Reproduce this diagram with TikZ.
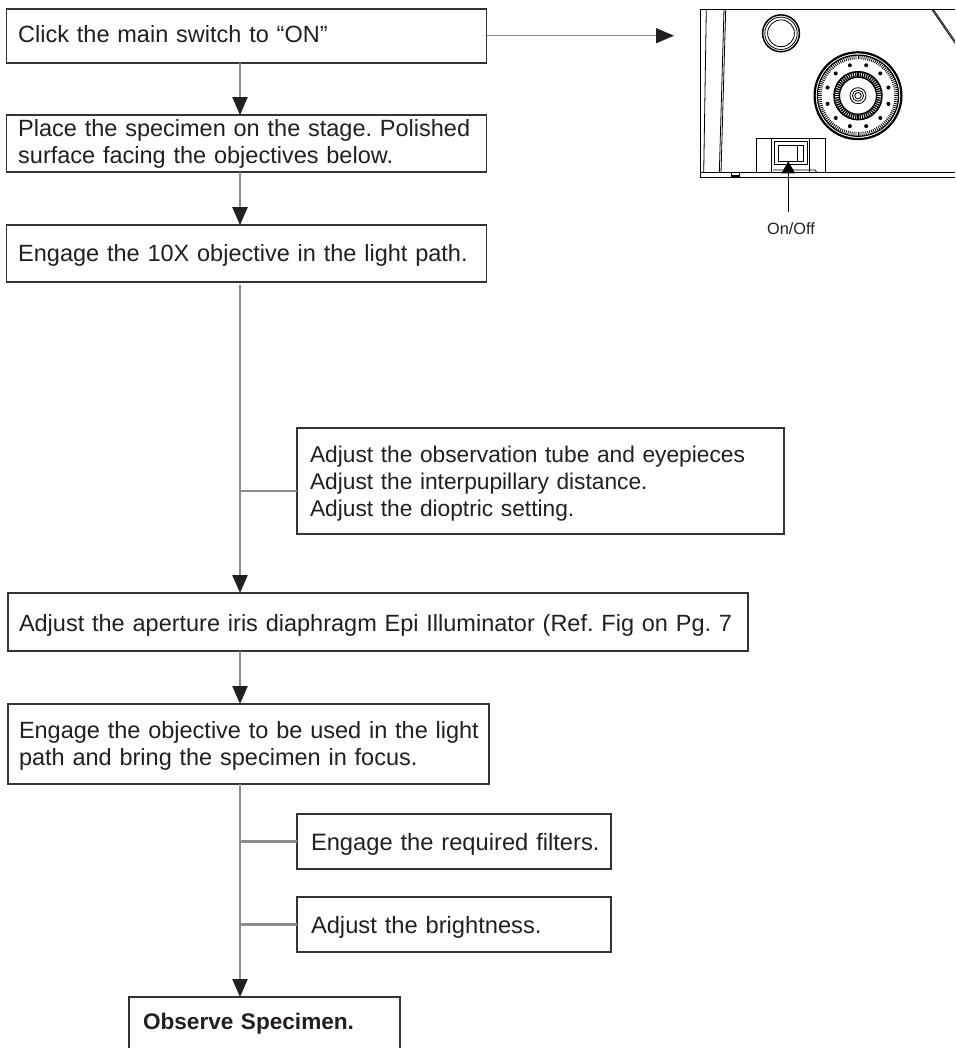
\documentclass[tikz,border=0pt]{standalone}
\usepackage{fontspec}
\setmainfont{Liberation Sans}
\usetikzlibrary{arrows.meta,calc}
\definecolor{ink}{HTML}{231F20}
\definecolor{rail}{HTML}{8C8C8F}
\definecolor{edge}{HTML}{333335}
\frenchspacing
\tikzset{
  flowbox/.style={draw=edge,line width=1.2pt,fill=white,align=left,inner ysep=0pt,outer sep=0pt,text=ink,text depth=0pt,
    font=\fontsize{23.5}{26.7}\selectfont\frenchspacing},
  narrowtext/.style={font=\fontsize{22.75}{26.7}\selectfont\frenchspacing},
  widetext/.style={font=\fontsize{23.7}{26.7}\selectfont\frenchspacing},
  boldtext/.style={font=\fontsize{22.6}{26.7}\selectfont\frenchspacing},
  flowlink/.style={draw=rail,line width=2.3pt},
  flowarrow/.style={flowlink,-{Triangle[length=18pt,width=15pt,color=ink]}},
  sidearrow/.style={draw=rail,line width=1.2pt,-{Triangle[length=18pt,width=15pt,color=ink]}},
  art/.style={draw=black,line width=0.8pt},
  artthick/.style={draw=black,line width=1.5pt},
}
\begin{document}
\begin{tikzpicture}[x=1pt,y=-1pt]
\path[use as bounding box,clip] (0,0) rectangle (955,1048);
\fill[white] (0,0) rectangle (955,1048);
\coordinate (trunk) at (240,0);
% boxes
\node[flowbox,text height=13.4pt,text width=457pt,inner xsep=11.5pt,minimum height=54pt] (b1) at (246.7,36) {\mbox{Click the main switch to “ON”}};
\node[flowbox,text height=0pt,text depth=13.8pt,text width=457pt,inner xsep=11.5pt,minimum height=57pt] (b2) at (246.7,143.6) {\mbox{Place the specimen on the stage. Polished}\\\mbox{surface facing the objectives below.}};
\node[flowbox,text height=16.8pt,text width=457pt,inner xsep=11.5pt,minimum height=57pt] (b3) at (246.7,253.6) {\mbox{Engage the 10X objective in the light path.}};
\node[flowbox,narrowtext,text height=0pt,text depth=36.6pt,text width=461pt,inner xsep=13pt,minimum height=106pt] (b4) at (540.5,481) {\mbox{Adjust the observation tube and eyepieces}\\\mbox{Adjust the interpupillary distance.}\\\mbox{Adjust the dioptric setting.}};
\node[flowbox,text height=19.4pt,text width=718pt,inner xsep=11pt,minimum height=58pt] (b5) at (378,622) {\mbox{Adjust the aperture iris diaphragm Epi Illuminator (Ref. Fig on Pg. 7}};
\node[flowbox,text height=0pt,text depth=10.6pt,text width=459pt,inner xsep=11pt,minimum height=80pt] (b6) at (248.5,744) {\mbox{Engage the objective to be used in the light}\\\mbox{path and bring the specimen in focus.}};
\node[flowbox,widetext,text height=18.4pt,text width=286pt,inner xsep=14pt,minimum height=55pt] (b7) at (454,841.5) {\mbox{Engage the required filters.}};
\node[flowbox,widetext,text height=17pt,text width=286pt,inner xsep=14pt,minimum height=55pt] (b8) at (454,924.5) {\mbox{Adjust the brightness.}};
\node[flowbox,boldtext,text height=10pt,text width=243pt,inner xsep=14pt,minimum height=55pt] (b9) at (264.5,1024.5) {\mbox{\textbf{Observe Specimen.}}};
% connectors
\draw[flowarrow] (b1.south -| trunk) -- (b2.north -| trunk);
\draw[flowarrow] (b2.south -| trunk) -- (b3.north -| trunk);
\draw[flowarrow,shorten <=3pt] (b3.south -| trunk) -- (b5.north -| trunk);
\draw[flowarrow] (b5.south -| trunk) -- (b6.north -| trunk);
\draw[flowarrow] (b6.south -| trunk) -- (b9.north -| trunk);
\coordinate (j4) at (240,490.7);
\draw[flowlink] (j4) -- (j4 -| b4.west);
\draw[flowlink] (b7.west) -- (b7.west -| trunk);
\draw[flowlink] (b8.west) -- (b8.west -| trunk);
\coordinate (target) at (674,35.7);
\draw[sidearrow] (target -| b1.east) -- (target);
% illustration
\draw[art] (955,9.3) -- (700.3,9.3) -- (700.3,177) -- (955,177);
\draw[art] (700.3,172.7) -- (955,172.7);
\draw[art] (706.3,9.3) -- (703.7,172.7);
\draw[art] (725.7,9.3) -- (721,172.7);
\draw[art] (724,9.3) -- (719.3,172.7);
\draw[art] (931.7,9.3) -- (955,43.3);
\draw[art] (933.2,9.3) -- (955,41);
\draw[artthick,fill=black] (732,175.4) rectangle (739,176.6);
\draw[art] (731.7,172.7) -- (731.7,175.4);
\draw[art] (739,172.7) -- (739,175.4);
% lamp ring
\draw[artthick] (781,33.3) circle (18.4);
\draw[art] (781,33.3) circle (16.2);
\draw[art] (781,33.3) circle (13.4);
% dial
\begin{scope}[shift={(858,95.7)}]
\draw[line width=2.2pt] (0,0) circle (43.4);
\draw[line width=1.2pt] (0,0) circle (40.6);
\foreach \a in {0,3,...,357} \draw[line width=0.8pt] (\a:40.6) -- (\a:36.4);
\foreach \a in {15,45,...,345} \fill (\a:31.5) circle (2);
\draw[line width=1.5pt] (0,0) circle (24);
\draw[line width=1.2pt] (0,0) circle (18.5);
\foreach \a in {0,6,...,354} \draw[line width=1.3pt] (\a:24) -- (\a:18.5);
\draw[line width=0.8pt] (0,0) circle (8);
\draw[line width=0.8pt] (0,0) circle (5.6);
\draw[line width=0.8pt] (0,0) circle (3.2);
\end{scope}
% switch
\draw[art] (756.7,172.7) -- (756.7,138.3) -- (825.7,138.3) -- (825.7,172.7);
\draw[artthick] (771.7,138.3) -- (771.7,172.7);
\draw[artthick] (809.7,138.3) -- (809.7,172.7);
\draw[art] (774.3,141) rectangle (807.3,164);
\draw[artthick] (778.7,145.3) rectangle (803.3,161.3);
\draw[art] (797.3,145.3) -- (797.3,161.3);
\draw[art] (773,170) -- (815,170) -- (817,172.7);
\node[inner sep=0pt,anchor=base,text=ink,font=\fontsize{16.3}{18}\selectfont] (onoff) at (791,235) {On/Off};
\coordinate (pointer) at (788.3,161.3);
\draw[black,line width=0.8pt,-{Triangle[length=12pt,width=13.5pt]}] (pointer |- onoff.north) ++(0,-11) -- (pointer);
\end{tikzpicture}
\end{document}
